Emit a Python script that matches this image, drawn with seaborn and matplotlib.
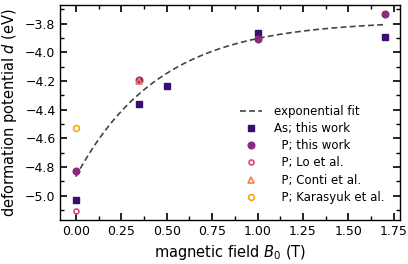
import numpy as np
import pandas as pd
import matplotlib
matplotlib.use("Agg")
import matplotlib.pyplot as plt
import seaborn as sns
from matplotlib.ticker import AutoMinorLocator

# data
as_B = [0.0, 0.35, 0.5, 1.0, 1.7]
as_d = [-5.03, -4.36, -4.235, -3.868, -3.89]
p_B = [0.0, 0.35, 1.0, 1.7]
p_d = [-4.828, -4.195, -3.905, -3.735]
lo_B = [0.0]
lo_d = [-5.105]
conti_B = [0.35]
conti_d = [-4.20]
kar_B = [0.0]
kar_d = [-4.53]
# exponential fit parameters: d = d_inf - A*exp(-B/tau)
fit_d_inf = -3.78
fit_A = 1.088
fit_tau = 0.46
fit_B = np.linspace(0.0, 1.7, 200)
fit_d = fit_d_inf - fit_A * np.exp(-fit_B / fit_tau)

plt.rcParams.update({
    'font.family': ['DejaVu Sans'],
    'axes.linewidth': 1.0,
})

fig, ax = plt.subplots(figsize=(4.08, 2.64), dpi=100)

sns.lineplot(x=fit_B, y=fit_d, ax=ax, color="#444444", linestyle=(0, (3.5, 2)), lw=1.2,
             label="exponential fit")
ax.plot(as_B, as_d, ls="none", marker="s", ms=4.6, color="#3b0f70", label="As; this work")
ax.plot(p_B, p_d, ls="none", marker="o", ms=4.8, color="#8c2981", label="  P; this work")
ax.plot(lo_B, lo_d, ls="none", marker="o", ms=3.6, mfc="none", mew=1.2, color="#de4968",
        label="  P; Lo et al.")
ax.plot(conti_B, conti_d, ls="none", marker="^", ms=4.4, mfc="none", mew=1.2, color="#fb7a45",
        label="  P; Conti et al.")
ax.plot(kar_B, kar_d, ls="none", marker="o", ms=4.2, mfc="none", mew=1.2, color="#fca50a",
        label="  P; Karasyuk et al.")

ax.set_xlim(-0.085, 1.785)
ax.set_ylim(-5.17, -3.67)
ax.set_xticks([0, 0.25, 0.5, 0.75, 1.0, 1.25, 1.5, 1.75])
ax.set_yticks([-5.0, -4.8, -4.6, -4.4, -4.2, -4.0, -3.8])
ax.xaxis.set_minor_locator(AutoMinorLocator(2))
ax.yaxis.set_minor_locator(AutoMinorLocator(2))
ax.tick_params(axis="both", which="major", direction="in", top=True, right=True,
               bottom=True, left=True, length=5, width=1.2, color="black", labelsize=9)
ax.tick_params(axis="both", which="minor", direction="in", top=True, right=True,
               bottom=True, left=True, length=3, width=1.0, color="black")
ax.set_xlabel(r"magnetic field $B_0$ (T)", fontsize=10.5)
ax.set_ylabel(r"deformation potential $d$ (eV)", fontsize=10.5)
leg = ax.legend(loc="lower right", frameon=False, fontsize=8.5, handlelength=1.9,
                handletextpad=1.0, labelspacing=0.36, borderaxespad=0.95)

fig.subplots_adjust(left=0.148, right=0.981, top=0.981, bottom=0.167)
fig.savefig("out.png", dpi=100)
